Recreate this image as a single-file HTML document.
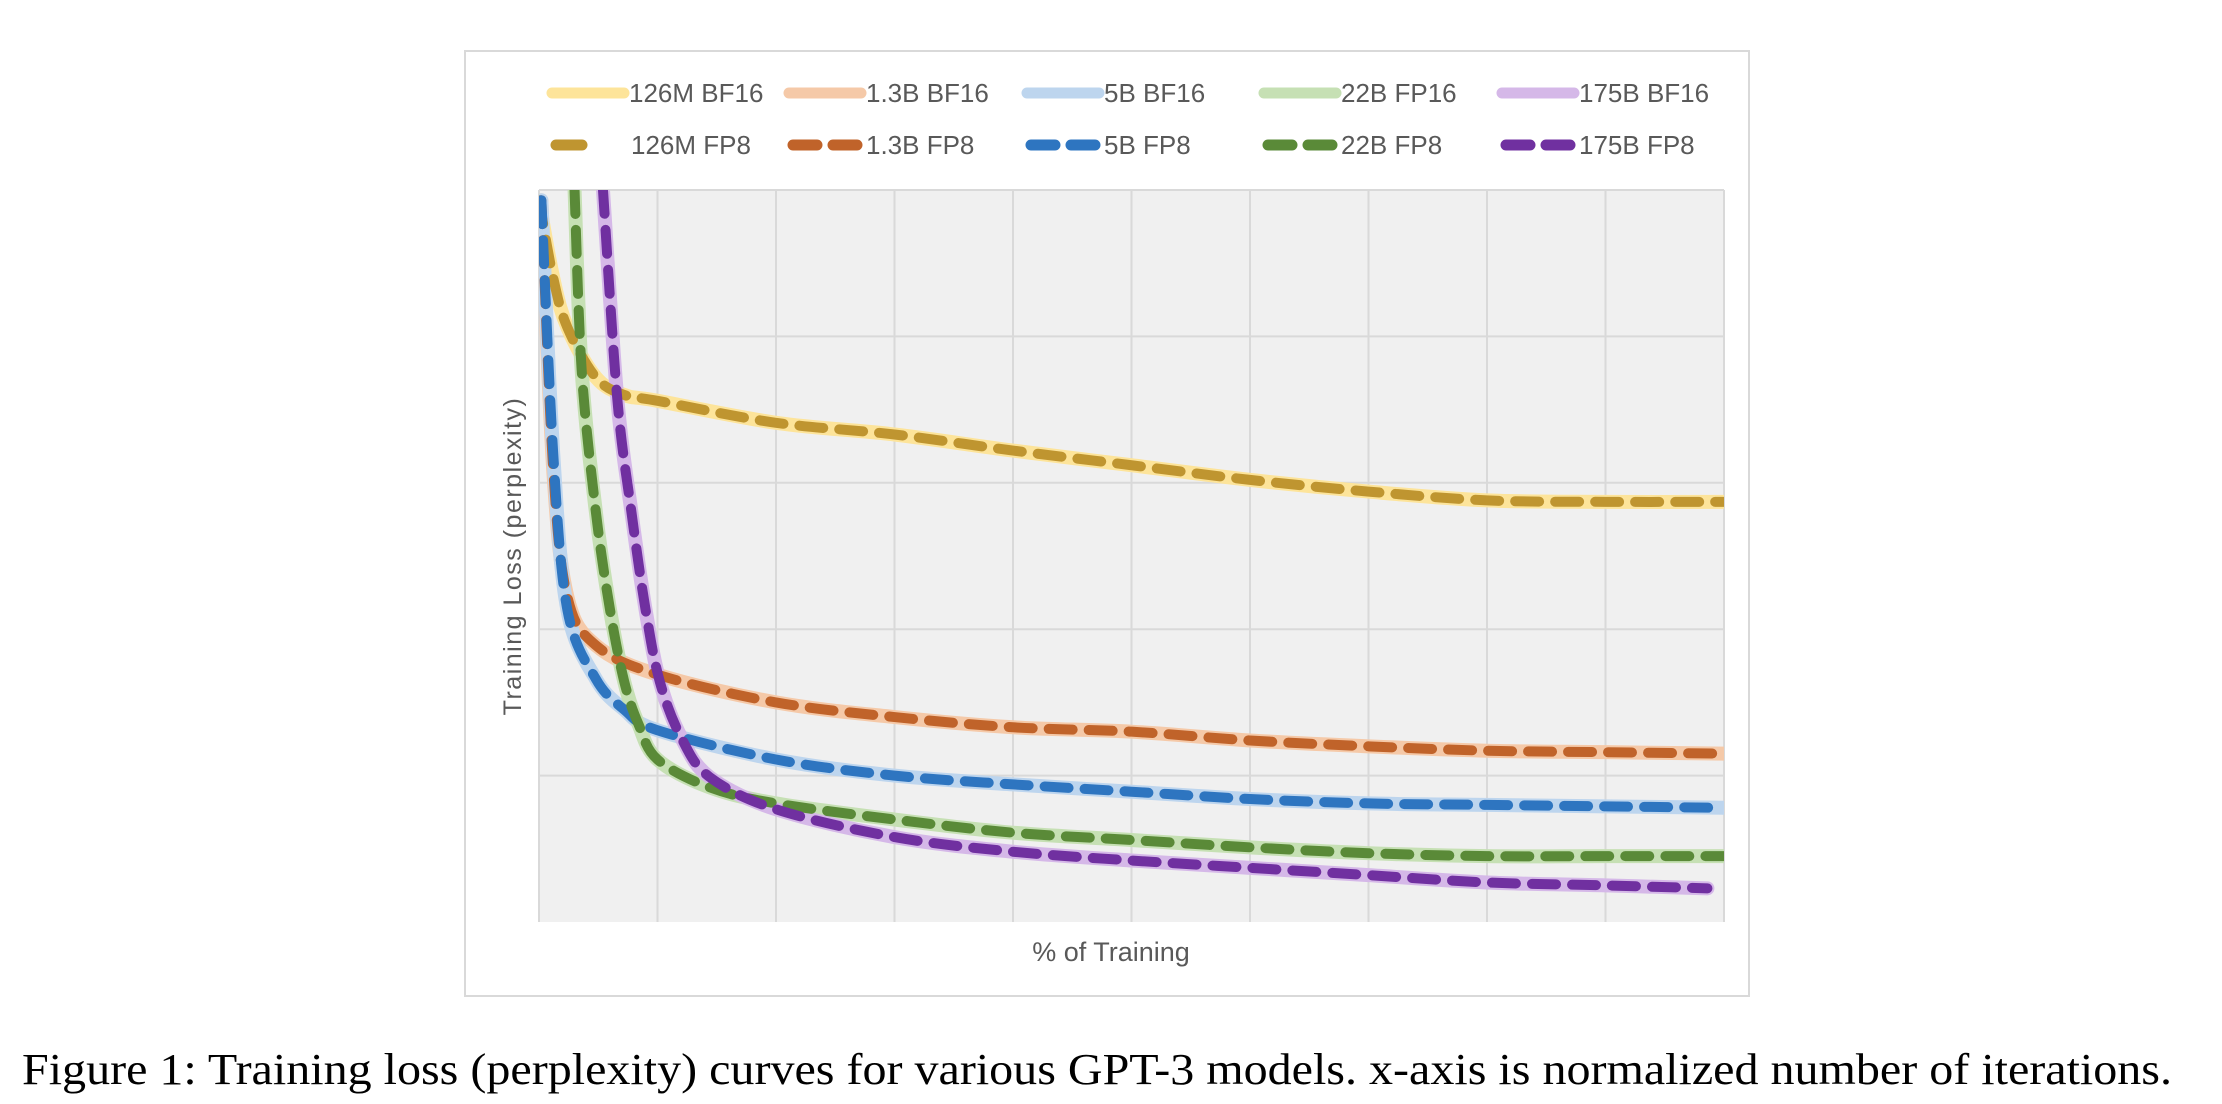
<!DOCTYPE html>
<html><head><meta charset="utf-8"><style>
body{margin:0;background:#fff;}
svg{display:block;font-family:"Liberation Sans",sans-serif;}
</style></head><body>
<svg id="chart" width="2222" height="1104" viewBox="0 0 2222 1104">
<rect x="465" y="51" width="1284" height="945" fill="#fff" stroke="#d9d9d9" stroke-width="2"/>
<rect x="539" y="190" width="1185" height="732" fill="#f0f0f0"/>
<g id="grid"></g>
<g id="series"></g>
<g id="legend"></g>
<text transform="translate(521,556) rotate(-90)" text-anchor="middle" font-size="25" letter-spacing="1.5" fill="#595959">Training Loss (perplexity)</text>
<text x="1111" y="961" text-anchor="middle" font-size="27" fill="#595959">% of Training</text>
<text x="22" y="1084" font-family="Liberation Serif, serif" font-size="44" fill="#000" textLength="2150" lengthAdjust="spacingAndGlyphs">Figure 1: Training loss (perplexity) curves for various GPT-3 models. x-axis is normalized number of iterations.</text>
</svg>
<script>
const names = ["126M","1.3B","5B","22B","175B"];
const bfLabels = ["126M BF16","1.3B BF16","5B BF16","22B FP16","175B BF16"];
const fpLabels = ["126M FP8","1.3B FP8","5B FP8","22B FP8","175B FP8"];
const x126 = [0,1.2,2.4,4.8,7.2,10,20,30,40,50,60,70,80,90,100];
const y126 = [4.93,4.4,4.06,3.72,3.6,3.56,3.41,3.33,3.22,3.12,3.02,2.94,2.88,2.87,2.87];
const x13 = [0.2,1.2,2.4,4.8,10,20,30,40,50,60,70,80,90,100];
const y13 = [4.93,3.09,2.22,1.89,1.69,1.5,1.40,1.33,1.30,1.24,1.2,1.17,1.16,1.15];
const x5 = [0.2,1.2,2.4,4.8,7.2,10,20,30,40,50,60,70,80,90,100];
const y5 = [4.93,3.2,2.13,1.66,1.45,1.31,1.11,1.0,0.94,0.89,0.84,0.81,0.80,0.79,0.78];
const x22 = [3.0,3.6,4.8,6.0,7.2,8.4,10,14.4,20,30,40,50,60,70,80,90,100];
const y22 = [5,3.77,2.8,2.13,1.64,1.35,1.11,0.92,0.81,0.70,0.61,0.56,0.51,0.47,0.45,0.45,0.45];
const x175 = [5.4,6.6,7.8,9.0,10.2,12,14.4,20,30,40,50,60,70,80,90,98.6];
const y175 = [5,3.58,2.8,2.13,1.64,1.26,0.99,0.77,0.58,0.48,0.42,0.37,0.32,0.27,0.25,0.23];

const xs=[x126,x13,x5,x22,x175], ys=[y126,y13,y5,y22,y175];
const light=["#fde49a","#f5c9a8","#bdd5ee","#c6e0b4","#d5b8e8"];
const dark=["#bf9530","#c0632a","#2e75c0","#5a8a38","#7030a0"];
const X0=539,X1=1724,Y0=922,Y1=190;
const sx=v=>X0+(X1-X0)*v/100, sy=v=>Y0-(Y0-Y1)*v/5;
const NS="http://www.w3.org/2000/svg";
function mk(t,a,p){const e=document.createElementNS(NS,t);for(const k in a)e.setAttribute(k,a[k]);p.appendChild(e);return e;}
const grid=document.getElementById('grid');
for(let i=1;i<10;i++){const g=mk('line',{x1:sx(i*10),x2:sx(i*10),y1:Y1,y2:Y0,stroke:'#d9d9d9','stroke-width':2},grid);

}
for(let i=0;i<5;i++){const g=mk('line',{x1:X0,x2:X1,y1:sy(5-i),y2:sy(5-i),stroke:'#d9d9d9','stroke-width':2},grid);

}
mk('line',{x1:X0,x2:X0,y1:Y1,y2:Y0,stroke:'#d9d9d9','stroke-width':2},grid);
mk('line',{x1:X1,x2:X1,y1:Y1,y2:Y0,stroke:'#d9d9d9','stroke-width':2},grid);
function pathD(xa,ya){
  const p=xa.map((v,i)=>[sx(v),sy(ya[i])]);
  let d=`M${p[0][0]},${p[0][1]}`;
  for(let i=0;i<p.length-1;i++){
    const a=p[i-1]||p[i],b=p[i],c=p[i+1],e=p[i+2]||c;
    d+=` C${b[0]+(c[0]-a[0])/6},${b[1]+(c[1]-a[1])/6} ${c[0]-(e[0]-b[0])/6},${c[1]-(e[1]-b[1])/6} ${c[0]},${c[1]}`;
  }
  return d;
}
const ser=document.getElementById('series');
const clip=mk('clipPath',{id:'pc'},ser);mk('rect',{x:X0,y:Y1,width:X1-X0,height:Y0-Y1},clip);
for(let i=0;i<5;i++){
  const l=mk('path',{d:pathD(xs[i],ys[i]),fill:'none',stroke:light[i],'stroke-width':14,'stroke-linecap':'round','clip-path':'url(#pc)'},ser);
  
  
}
for(let i=0;i<5;i++){
  const l=mk('path',{d:pathD(xs[i],ys[i]),fill:'none',stroke:dark[i],'stroke-width':10,'stroke-dasharray':'24 16','stroke-linecap':'round','clip-path':'url(#pc)'},ser);
  
  
}
const leg=document.getElementById('legend');
const lx=[552,789,1027,1264,1502];
for(let i=0;i<5;i++){
  const a=mk('line',{x1:lx[i],x2:lx[i]+72,y1:93,y2:93,stroke:light[i],'stroke-width':11,'stroke-linecap':'round'},leg);
  
  
  const t=mk('text',{x:lx[i]+77,y:102,'font-size':26,fill:'#595959'},leg);t.textContent=bfLabels[i];
  
  
  const b=mk('line',{x1:lx[i]+4,x2:lx[i]+72,y1:145,y2:145,stroke:dark[i],'stroke-width':11,'stroke-dasharray':i==0?'26 100':'24 16','stroke-linecap':'round'},leg);
  
  
  const u=mk('text',{x:i==0?631:lx[i]+77,y:154,'font-size':26,fill:'#595959'},leg);u.textContent=fpLabels[i];
  
  
}
</script>
</body></html>
